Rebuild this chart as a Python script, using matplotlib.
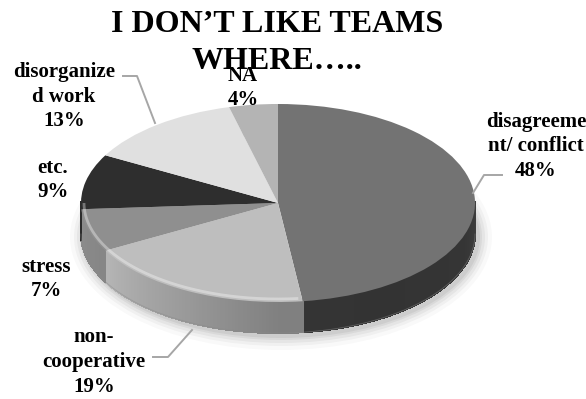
import numpy as np
import matplotlib
matplotlib.use("Agg")
import matplotlib.pyplot as plt
from matplotlib.transforms import Affine2D
from matplotlib.patches import Ellipse
from matplotlib.collections import PolyCollection

# ---- data ----
categories = ["disagreement/ conflict", "non-cooperative", "stress", "etc.",
              "disorganized work", "NA"]
label_text = ["disagreeme\nnt/ conflict", "non-\ncooperative", "stress", "etc.",
              "disorganize\nd work", "NA"]
values = [48, 19, 7, 9, 13, 4]
title = "I DON\u2019T LIKE TEAMS\nWHERE\u2026.."

# ---- styles ----
top_colors = ["#737373", "#bebebe", "#8f8f8f", "#2e2e2e", "#e0e0e0", "#b4b4b4"]
FONT = "Liberation Serif"

W, H = 586, 399
fig = plt.figure(figsize=(W / 100, H / 100), dpi=100)
ax = fig.add_axes([0, 0, 1, 1])

cx, cy = 278, 203      # pie centre (pixels)
rx, ry = 197, 99       # radii
depth = 31

wedges, _ = ax.pie(values, colors=top_colors, startangle=-90, counterclock=True,
                   radius=rx, center=(cx, cy), wedgeprops=dict(linewidth=0))
ax.set_xlim(0, W)
ax.set_ylim(H, 0)
ax.set_aspect("auto")
ax.axis("off")

squash = Affine2D().translate(-cx, -cy).scale(1, ry / rx).translate(cx, cy)
for w in wedges:
    w.set_transform(squash + ax.transData)
    w.set_zorder(5)

# soft shadow
for grow, a in [(14, 0.025), (10, 0.035), (7, 0.045), (4, 0.05), (2, 0.05)]:
    ax.add_patch(Ellipse((cx + 3, cy + depth + 3), 2 * (rx + grow), 2 * (ry + grow),
                         facecolor="#000000", alpha=a, linewidth=0, zorder=1))
ax.add_patch(Ellipse((cx, cy + depth), 2 * rx, 2 * ry, facecolor="white",
                     linewidth=0, zorder=1.5))


def side_offset(a):
    pa = [0, 20, 60, 90, 120, 150, 180]
    po = [-52, -62, -64, -62, -35, -10, -2]
    return np.interp(a, pa, po)


def hexgray(c):
    return int(c[1:3], 16)


polys, cols = [], []
for w, col in zip(wedges, top_colors):
    t1, t2 = w.theta1, w.theta2
    base = hexgray(col)
    for shift in (0, 360, -360):
        a0, a1 = max(t1 + shift, 0), min(t2 + shift, 180)
        if a1 <= a0:
            continue
        n = max(int((a1 - a0) / 0.5), 1)
        edges = np.linspace(a0, a1, n + 1)
        for e0, e1 in zip(edges[:-1], edges[1:]):
            am = 0.5 * (e0 + e1)
            g = np.clip(base + side_offset(am), 0, 255) / 255
            th = np.radians([e0, e1])
            xs = cx + rx * np.cos(th)
            ys = cy + ry * np.sin(th)
            polys.append([(xs[0], ys[0] - 1), (xs[1], ys[1] - 1),
                          (xs[1], ys[1] + depth), (xs[0], ys[0] + depth)])
            cols.append((g, g, g))
pc = PolyCollection(polys, facecolors=cols, edgecolors=cols, linewidths=0.8,
                    antialiased=False, zorder=3)
ax.add_collection(pc)
# smooth bottom outline of side wall
th = np.radians(np.linspace(0, 180, 300))
ax.plot(cx + rx * np.cos(th), cy + ry * np.sin(th) + depth, color="#8a8a8a",
        lw=0.6, alpha=0.5, zorder=3.5)

# bevel highlight near front edge of the lighter part
th = np.radians(np.linspace(84, 180, 200))
ax.plot(cx + (rx - 3) * np.cos(th), cy + (ry - 3) * np.sin(th), color="white",
        alpha=0.35, lw=2, zorder=6, solid_capstyle="butt")

# ---- title ----
ax.text(277, 43, title, ha="center", va="center", fontsize=23, fontweight="bold",
        family=FONT, linespacing=1.38, zorder=10)

# ---- labels ----
label_pos = [(536, 146), (94, 362), (46, 279), (53, 180), (64, 97), (243, 88)]
for txt, v, (lx, ly) in zip(label_text, values, label_pos):
    ax.text(lx, ly, f"{txt}\n{v}%", ha="center", va="center", fontsize=15,
            fontweight="bold", family=FONT, linespacing=1.3, zorder=10)

# leader lines
leaders = [
    [(473, 193), (484, 175), (502, 175)],
    [(153, 357), (168, 357), (192, 330)],
    [(123, 76), (137, 76), (155, 123)],
]
for pts in leaders:
    xs, ys = zip(*pts)
    ax.plot(xs, ys, color="#a6a6a6", lw=1.4, zorder=9)

fig.savefig("out.png", dpi=100)
